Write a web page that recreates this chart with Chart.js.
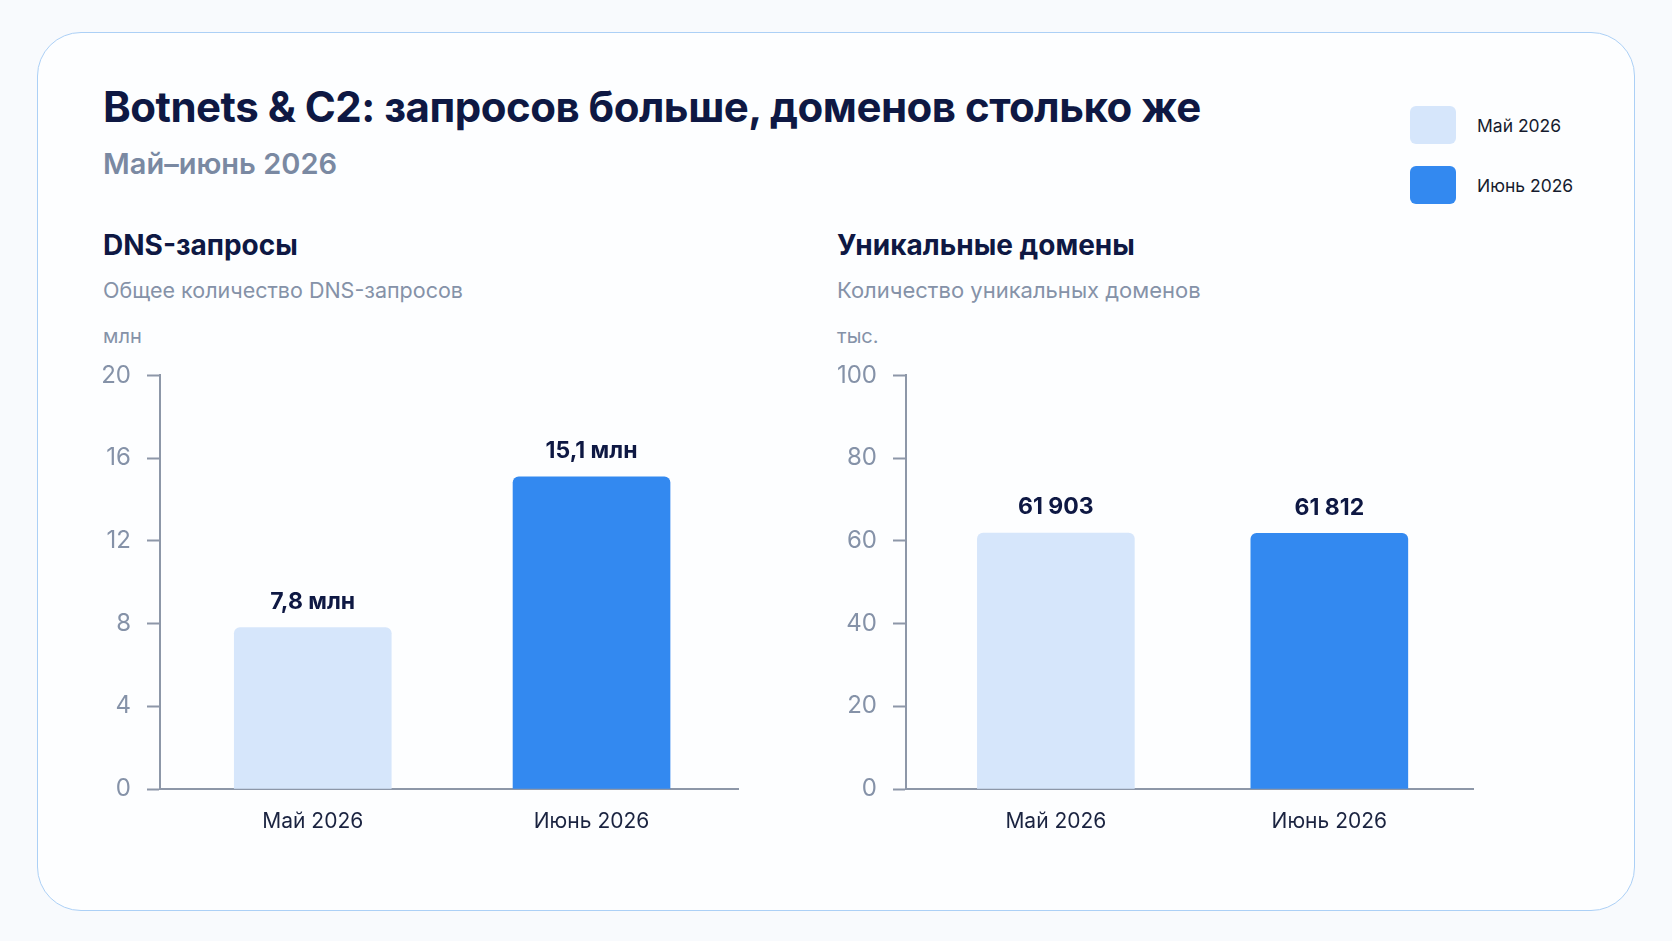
<!DOCTYPE html>
<html lang="ru">
<head>
<meta charset="utf-8">
<script src="https://cdn.jsdelivr.net/npm/chart.js@4.4.1/dist/chart.umd.min.js"></script>
<style>
  html, body { margin: 0; padding: 0; background: #f8fafd; }
  body { width: 1672px; height: 941px; position: relative; overflow: hidden; font-family: Inter, "Noto Sans", sans-serif; }
  .card { position: absolute; left: 37px; top: 32px; width: 1598px; height: 879px; box-sizing: border-box;
          border: 1.5px solid #acd0f6; border-radius: 44px; background: #fdfeff; }
  .t { position: absolute; white-space: nowrap; }
  #title { left: 103px; top: 81px; font-size: 42px; font-weight: 700; color: #0e1843; letter-spacing: -0.5px; }
  #subtitle { left: 103px; top: 146px; font-size: 29px; font-weight: 600; color: #7a89a2; }
  .ptitle { top: 228px; font-size: 28px; font-weight: 700; color: #0e1843; }
  .pdesc { top: 277px; font-size: 21.5px; color: #8592a8; }
  .unit { top: 324px; font-size: 20px; color: #8592a8; }
  .legend { position: absolute; left: 1410px; top: 106px; }
  .legend .row { display: flex; align-items: center; height: 38px; margin-bottom: 22px; }
  .legend .sw { width: 46px; height: 38px; border-radius: 6px; margin-right: 21px; }
  .legend span { font-size: 17.5px; color: #161b2e; }
  canvas { position: absolute; }
</style>
</head>
<body>
<div class="card"></div>
<div class="t" id="title">Botnets &amp; C2: запросов больше, доменов столько же</div>
<div class="t" id="subtitle">Май–июнь 2026</div>

<div class="legend" id="legend"></div>

<div class="t ptitle" style="left:103px">DNS-запросы</div>
<div class="t pdesc" style="left:103px">Общее количество DNS-запросов</div>
<div class="t unit" style="left:103px">млн</div>

<div class="t ptitle" style="left:837px">Уникальные домены</div>
<div class="t pdesc" style="left:837px; font-size:22px">Количество уникальных доменов</div>
<div class="t unit" style="left:837px">тыс.</div>

<div style="position:absolute;left:90px;top:345px;width:649px;height:494px"><canvas id="dnsChart"></canvas></div>
<div style="position:absolute;left:836px;top:345px;width:638px;height:494px"><canvas id="domainChart"></canvas></div>

<script>
const months = ['Май 2026', 'Июнь 2026'];
const monthColors = ['#d6e6fb', '#3389f0'];

const dnsValues = [7.8, 15.1];          // млн
const dnsLabels = ['7,8 млн', '15,1 млн'];
const dnsTicks = [0, 4, 8, 12, 16, 20];

const domainValues = [61.903, 61.812];  // тыс.
const domainLabels = ['61 903', '61 812'];
const domainTicks = [0, 20, 40, 60, 80, 100];

const axisColor = '#8d97a8';

// legend
const legendEl = document.getElementById('legend');
months.forEach((m, i) => {
    const row = document.createElement('div');
    row.className = 'row';
    row.innerHTML = '<div class="sw" style="background:' + monthColors[i] + '"></div><span>' + m + '</span>';
    legendEl.appendChild(row);
});

// подписи над столбцами
const valueLabels = {
    id: 'valueLabels',
    afterDatasetsDraw(chart, args, opts) {
        const ctx = chart.ctx;
        const meta = chart.getDatasetMeta(0);
        ctx.save();
        ctx.font = '700 23px Inter, "Noto Sans", sans-serif';
        ctx.fillStyle = '#0e1843';
        ctx.textAlign = 'center';
        ctx.textBaseline = 'bottom';
        meta.data.forEach((bar, i) => {
            ctx.fillText(opts.labels[i], bar.x, bar.y - 14);
        });
        ctx.restore();
    }
};

function makeChart(id, values, labels, ticks) {
    const ctx = document.getElementById(id).getContext('2d');
    return new Chart(ctx, {
        type: 'bar',
        data: {
            labels: months,
            datasets: [{
                data: values,
                backgroundColor: monthColors,
                borderRadius: { topLeft: 6, topRight: 6 },
                borderSkipped: 'bottom',
                barThickness: 157
            }]
        },
        options: {
            responsive: true,
            maintainAspectRatio: false,
            animation: false,
            layout: { padding: { top: 10, right: 0, left: 0, bottom: 0 } },
            plugins: {
                legend: { display: false },
                tooltip: { enabled: false },
                valueLabels: { labels: labels }
            },
            scales: {
                x: {
                    // столбцы стоят чуть ближе друг к другу, чем центры категорий
                    afterBuildTicks(scale) { scale._startValue = -0.548; scale._valueRange = 2.077; },
                    grid: { display: false },
                    border: { display: true, color: axisColor, width: 2 },
                    ticks: {
                        padding: 12,
                        color: '#1a2340',
                        font: { family: 'Inter, "Noto Sans", sans-serif', size: 21 }
                    },
                    afterFit(scale) { scale.height = 50; }
                },
                y: {
                    min: ticks[0],
                    max: ticks[ticks.length - 1],
                    afterBuildTicks(scale) { scale.ticks = ticks.map(v => ({ value: v })); },
                    grid: {
                        display: true,
                        drawOnChartArea: false,
                        drawTicks: true,
                        tickLength: 13,
                        tickColor: axisColor,
                        tickWidth: 2
                    },
                    border: { display: true, color: axisColor, width: 2 },
                    ticks: {
                        padding: 16,
                        color: '#8592a8',
                        font: { family: 'Inter, "Noto Sans", sans-serif', size: 24 }
                    },
                    afterFit(scale) { scale.width = 70; }
                }
            }
        },
        plugins: [valueLabels]
    });
}

makeChart('dnsChart', dnsValues, dnsLabels, dnsTicks);
makeChart('domainChart', domainValues, domainLabels, domainTicks);
</script>
</body>
</html>
